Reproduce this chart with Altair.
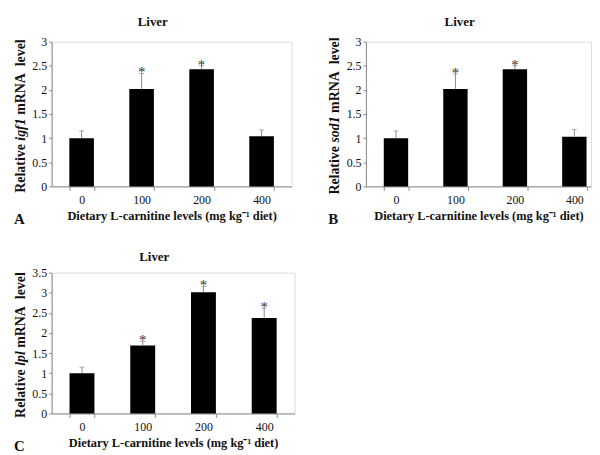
import altair as alt
import pandas as pd

cats = ["0", "100", "200", "400"]

igf1_vals = [1.00, 2.02, 2.43, 1.04]
igf1_upper = [1.15, 2.34, 2.50, 1.17]
igf1_star = [False, True, True, False]

sod1_vals = [1.00, 2.02, 2.43, 1.03]
sod1_upper = [1.15, 2.33, 2.50, 1.18]
sod1_star = [False, True, True, False]

lpl_vals = [1.00, 1.69, 3.01, 2.37]
lpl_upper = [1.15, 1.79, 3.16, 2.62]
lpl_star = [False, True, True, True]

ticks3 = [0, 0.5, 1, 1.5, 2, 2.5, 3]
ticks35 = [0, 0.5, 1, 1.5, 2, 2.5, 3, 3.5]

XTITLE = "Dietary L-carnitine levels (mg kg\u207b\u00b9 diet)"
SERIF = "Liberation Serif"
GREY = "#8a8a8a"
YT_SIZE = 14

# approximate em widths (Times bold / bold italic) used to lay out the
# mixed-style y-axis title pieces
EM = {"R": .722, "e": .444, "l": .278, "a": .5, "t": .333, "i": .278, "v": .5,
      "g": .5, "f": .333, "1": .5, "s": .389, "o": .5, "d": .5, "p": .5,
      "m": .833, "N": .722, "A": .722, " ": .25, "\u00a0": .25}


def tw(s):
    return sum(EM.get(c, .5) for c in s) * YT_SIZE


def ytitle(gene, height):
    p1, p3 = "Relative", "mRNA\u00a0\u00a0level"
    sp = tw(" ")
    total = tw(p1) + sp + tw(gene) + sp + tw(p3)
    start = height / 2 + 2 + total / 2
    y1 = start - tw(p1)
    y2 = y1 - sp
    y3 = y2 - tw(gene) - sp
    layers = []
    for txt, y, align, style in [(p1, y1, "right", "normal"),
                                 (gene, y2, "left", "italic"),
                                 (p3, y3, "left", "normal")]:
        layers.append(
            alt.Chart(pd.DataFrame({"t": [txt]})).mark_text(
                font=SERIF, fontSize=YT_SIZE, fontWeight="bold", fontStyle=style,
                angle=270, align=align, baseline="alphabetic", color="#111"
            ).encode(text="t:N", x=alt.value(-27), y=alt.value(y))
        )
    return layers


def panel(vals, upper, star, gene, letter, ymax, yticks, width, height,
          title_offset, p_outer=0.295, align=0.5):
    df = pd.DataFrame({"cat": cats, "val": vals, "upper": upper, "star": star})
    xs = alt.Scale(domain=cats, paddingInner=0.59, paddingOuter=p_outer, align=align)
    ys = alt.Scale(domain=[0, ymax], nice=False)
    xax = alt.Axis(title=XTITLE, labelAngle=0, tickBand="extent",
                   domainColor=GREY, tickColor=GREY, tickSize=4,
                   labelPadding=4, titlePadding=4,
                   labelFont=SERIF, labelFontSize=12, labelColor="#111",
                   titleFont=SERIF, titleFontSize=12.5,
                   titleFontWeight="bold", titleColor="#111")
    yax = alt.Axis(title=None, values=yticks,
                   labelExpr="'' + datum.value", grid=False,
                   domainColor=GREY, tickColor=GREY, tickSize=3,
                   labelPadding=2,
                   labelFont=SERIF, labelFontSize=12, labelColor="#111")
    X = alt.X("cat:N", sort=cats, scale=xs, axis=xax)
    base = alt.Chart(df).encode(x=X)
    bars = base.mark_bar(color="black").encode(y=alt.Y("val:Q", scale=ys, axis=yax))
    rule = base.mark_rule(color=GREY, strokeWidth=1).encode(
        y=alt.Y("val:Q", scale=ys, axis=yax), y2="upper:Q")
    cap = base.mark_tick(color=GREY, size=5, thickness=1).encode(
        y=alt.Y("upper:Q", scale=ys, axis=yax))
    stars = base.transform_filter("datum.star").mark_text(
        text="*", font=SERIF, fontSize=15, color="#333", baseline="alphabetic", dy=4
    ).encode(y=alt.Y("upper:Q", scale=ys, axis=yax))
    lab = alt.Chart(pd.DataFrame({"t": [letter]})).mark_text(
        font=SERIF, fontSize=15, fontWeight="bold", align="left", baseline="alphabetic",
        color="#111"
    ).encode(text="t:N", x=alt.value(-38), y=alt.value(height + 38))
    return alt.layer(bars, rule, cap, stars, lab, *ytitle(gene, height)).properties(
        width=width, height=height,
        title=alt.TitleParams("Liver", font=SERIF, fontSize=13, fontWeight="bold",
                              color="#111", offset=title_offset, anchor="middle",
                              frame="bounds"),
    )


A = panel(igf1_vals, igf1_upper, igf1_star, "igf1", "A", 3, ticks3, 242, 146, 7)
B = panel(sod1_vals, sod1_upper, sod1_star, "sod1", "B", 3, ticks3, 227, 146, 7,
          p_outer=0.1875, align=0.8)
C = panel(lpl_vals, lpl_upper, lpl_star, "lpl", "C", 3.5, ticks35, 245, 142, 3)

chart = alt.vconcat(alt.hconcat(A, B, spacing=35), C, spacing=22).properties(
    padding={"left": 5, "top": 5, "right": 0, "bottom": 0}
).configure_view(stroke=None).configure(background="white")

chart.save("out.html", embed_options={"renderer": "svg", "actions": False})
